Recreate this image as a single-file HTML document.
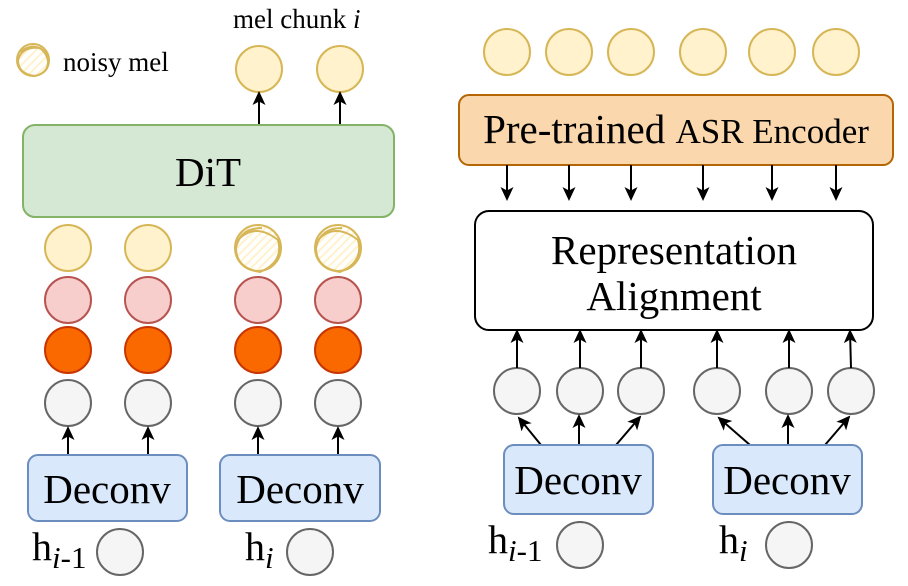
<!DOCTYPE html>
<html><head><style>body{margin:0;background:#fff}svg{display:block}text{font-family:"Liberation Serif",serif}</style></head><body>
<svg width="908" height="586" viewBox="0 0 908 586" xmlns="http://www.w3.org/2000/svg">
<defs><marker id="a" markerWidth="14" markerHeight="14" refX="12" refY="6.5" orient="auto" markerUnits="userSpaceOnUse"><path d="M0,0 L14,6.5 L0,13 L3.5,6.5 z" fill="#000"/></marker>
<pattern id="h" width="6" height="6" patternUnits="userSpaceOnUse" patternTransform="rotate(45)"><rect width="6" height="6" fill="#fff"/><line x1="0" y1="0" x2="0" y2="6" stroke="#fff2cc" stroke-width="4"/></pattern></defs>
<g stroke-width="2">
<!-- left -->
<text x="233" y="28" font-size="27">mel chunk <tspan font-style="italic">i</tspan></text>
<circle cx="33" cy="60" r="16" fill="url(#h)" stroke="#d6b656"/>
<path d="M20,52 Q35,40 48,55 Q52,72 35,76 Q18,74 18,60 Q22,46 40,48 Q52,58 46,70" fill="none" stroke="#d6b656"/>
<text x="63" y="71" font-size="27">noisy mel</text>
<circle cx="259" cy="69" r="23" fill="#fff2cc" stroke="#d6b656"/>
<circle cx="340" cy="69" r="23" fill="#fff2cc" stroke="#d6b656"/>
<line x1="259" y1="125" x2="259" y2="93" stroke="#000" marker-end="url(#a)"/>
<line x1="340" y1="125" x2="340" y2="93" stroke="#000" marker-end="url(#a)"/>
<rect x="23" y="125" width="371" height="92" rx="12" fill="#d5e8d4" stroke="#82b366"/>
<text x="208" y="186" font-size="41" text-anchor="middle">DiT</text>
<circle cx="68" cy="248" r="23" fill="#fff2cc" stroke="#d6b656"/>
<circle cx="148" cy="248" r="23" fill="#fff2cc" stroke="#d6b656"/>
<circle cx="258" cy="248" r="23" fill="url(#h)" stroke="#d6b656"/>
<path d="M238,240 Q255,222 278,240 Q284,262 260,272 Q236,268 236,248 Q240,228 262,228" fill="none" stroke="#d6b656"/>
<circle cx="338" cy="248" r="23" fill="url(#h)" stroke="#d6b656"/>
<path d="M318,240 Q335,222 358,240 Q364,262 340,272 Q316,268 316,248 Q320,228 342,228" fill="none" stroke="#d6b656"/>
<g fill="#f8cecc" stroke="#b85450"><circle cx="68" cy="300" r="23"/><circle cx="148" cy="300" r="23"/><circle cx="258" cy="300" r="23"/><circle cx="338" cy="300" r="23"/></g>
<g fill="#fa6800" stroke="#c73500"><circle cx="68" cy="350" r="23"/><circle cx="148" cy="350" r="23"/><circle cx="258" cy="350" r="23"/><circle cx="338" cy="350" r="23"/></g>
<g fill="#f5f5f5" stroke="#666"><circle cx="68" cy="403" r="23"/><circle cx="148" cy="403" r="23"/><circle cx="258" cy="403" r="23"/><circle cx="338" cy="403" r="23"/>
<circle cx="120" cy="552" r="23"/><circle cx="310" cy="552" r="23"/></g>
<g stroke="#000"><line x1="68" y1="455" x2="68" y2="428" marker-end="url(#a)"/><line x1="148" y1="455" x2="148" y2="428" marker-end="url(#a)"/><line x1="258" y1="455" x2="258" y2="428" marker-end="url(#a)"/><line x1="338" y1="455" x2="338" y2="428" marker-end="url(#a)"/></g>
<rect x="28" y="455" width="159" height="66" rx="10" fill="#dae8fc" stroke="#6c8ebf"/>
<rect x="220" y="455" width="160" height="66" rx="10" fill="#dae8fc" stroke="#6c8ebf"/>
<text x="107" y="503" font-size="41" text-anchor="middle">Deconv</text>
<text x="300" y="503" font-size="41" text-anchor="middle">Deconv</text>
<text x="32" y="560" font-size="40">h<tspan font-size="31" font-style="italic" dy="8">i</tspan><tspan font-size="31">-1</tspan></text>
<text x="245" y="560" font-size="40">h<tspan font-size="31" font-style="italic" dy="8">i</tspan></text>
<!-- right -->
<g fill="#fff2cc" stroke="#d6b656"><circle cx="507" cy="52" r="23"/><circle cx="569" cy="52" r="23"/><circle cx="631" cy="52" r="23"/><circle cx="703" cy="52" r="23"/><circle cx="772" cy="52" r="23"/><circle cx="836" cy="52" r="23"/></g>
<rect x="459" y="95" width="434" height="70" rx="10" fill="#fad7ac" stroke="#b46504"/>
<text x="676" y="143" font-size="41" text-anchor="middle">Pre-trained <tspan font-size="35">ASR Encoder</tspan></text>
<g stroke="#000"><line x1="507" y1="165" x2="507" y2="199" marker-end="url(#a)"/><line x1="569" y1="165" x2="569" y2="199" marker-end="url(#a)"/><line x1="631" y1="165" x2="631" y2="199" marker-end="url(#a)"/><line x1="703" y1="165" x2="703" y2="199" marker-end="url(#a)"/><line x1="772" y1="165" x2="772" y2="199" marker-end="url(#a)"/><line x1="836" y1="165" x2="836" y2="199" marker-end="url(#a)"/></g>
<rect x="475" y="211" width="398" height="119" rx="14" fill="#fff" stroke="#000"/>
<text x="674" y="264" font-size="41" text-anchor="middle">Representation</text>
<text x="674" y="310" font-size="41" text-anchor="middle">Alignment</text>
<g fill="#f5f5f5" stroke="#666"><circle cx="517" cy="391" r="23"/><circle cx="580" cy="391" r="23"/><circle cx="641" cy="391" r="23"/><circle cx="717" cy="391" r="23"/><circle cx="789" cy="391" r="23"/><circle cx="851" cy="391" r="23"/>
<circle cx="580" cy="545" r="23"/><circle cx="789" cy="545" r="23"/></g>
<g stroke="#000"><line x1="517" y1="368" x2="517" y2="331" marker-end="url(#a)"/><line x1="580" y1="368" x2="580" y2="331" marker-end="url(#a)"/><line x1="641" y1="368" x2="641" y2="331" marker-end="url(#a)"/><line x1="717" y1="368" x2="717" y2="331" marker-end="url(#a)"/><line x1="789" y1="368" x2="789" y2="331" marker-end="url(#a)"/><line x1="851" y1="368" x2="850" y2="331" marker-end="url(#a)"/>
<line x1="541" y1="445" x2="519" y2="418" marker-end="url(#a)"/><line x1="579" y1="445" x2="579" y2="416" marker-end="url(#a)"/><line x1="616" y1="445" x2="640" y2="417" marker-end="url(#a)"/>
<line x1="750" y1="445" x2="719" y2="418" marker-end="url(#a)"/><line x1="788" y1="445" x2="788" y2="416" marker-end="url(#a)"/><line x1="825" y1="445" x2="849" y2="417" marker-end="url(#a)"/></g>
<rect x="504" y="445" width="149" height="69" rx="10" fill="#dae8fc" stroke="#6c8ebf"/>
<rect x="713" y="445" width="149" height="69" rx="10" fill="#dae8fc" stroke="#6c8ebf"/>
<text x="578" y="494" font-size="41" text-anchor="middle">Deconv</text>
<text x="787" y="494" font-size="41" text-anchor="middle">Deconv</text>
<text x="488" y="553" font-size="40">h<tspan font-size="31" font-style="italic" dy="8">i</tspan><tspan font-size="31">-1</tspan></text>
<text x="719" y="553" font-size="40">h<tspan font-size="31" font-style="italic" dy="8">i</tspan></text>
</g>
</svg>
</body></html>
